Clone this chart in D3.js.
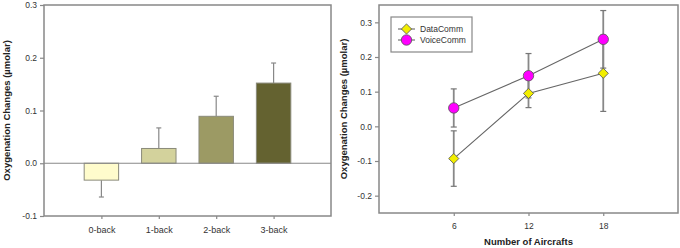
<!DOCTYPE html>
<html>
<head>
<meta charset="utf-8">
<script src="https://cdn.jsdelivr.net/npm/d3@7"></script>
<style>
  body { margin: 0; background: #fff; }
  svg { display: block; font-family: Arial, "Liberation Sans", sans-serif; }
  .tick text { fill: #333; font-size: 8.5px; }
  .domain { display: none; }
  .tick line { stroke: #888; stroke-width: 1.2; }
</style>
</head>
<body>
<div id="chart"></div>
<script>
// left panel: n-back task
const nbackCats = ["0-back", "1-back", "2-back", "3-back"];
const nbackMean = [-0.032, 0.028, 0.089, 0.152];
const nbackErr = [0.032, 0.039, 0.038, 0.038];
const nbackColors = ["#fffccc", "#d3d29c", "#9c9a64", "#646230"];
const leftTicks = [-0.1, 0.0, 0.1, 0.2, 0.3];

// right panel: aircraft count
const aircrafts = [6, 12, 18];
const dataComm = [-0.093, 0.095, 0.153];
const dataCommErr = [0.080, 0.041, 0.110];
const voiceComm = [0.053, 0.146, 0.251];
const voiceCommErr = [0.055, 0.064, 0.083];
const rightTicks = [-0.2, -0.1, 0.0, 0.1, 0.2, 0.3];

const W = 680, H = 248;
const frameColor = "#888";
const fmt = d => d.toFixed(1);

const svg = d3.select("#chart").append("svg")
    .attr("width", W)
    .attr("height", H);

// ---------- left bar chart ----------
const x1 = d3.scalePoint().domain(nbackCats).range([44, 331]).padding(1);
const y1 = d3.scaleLinear().domain([-0.1, 0.3]).range([216, 5]);
const left = svg.append("g");

left.append("g")
    .attr("transform", `translate(${x1.range()[0]},0)`)
    .call(d3.axisLeft(y1).tickValues(leftTicks).tickFormat(fmt).tickSize(4).tickPadding(3));

left.append("g")
    .attr("transform", `translate(0,${y1.range()[0]})`)
    .call(d3.axisBottom(x1).tickSize(3).tickPadding(8))
    .selectAll("text").style("font-size", "9px");

left.append("rect")
    .attr("x", x1.range()[0]).attr("y", y1.range()[1])
    .attr("width", x1.range()[1] - x1.range()[0])
    .attr("height", y1.range()[0] - y1.range()[1])
    .attr("fill", "none").attr("stroke", frameColor).attr("stroke-width", 1.5);

const bw = x1.step() * 0.6;

// error bars (one sided, away from zero)
nbackCats.forEach((c, i) => {
    const v = nbackMean[i];
    const end = v + Math.sign(v) * nbackErr[i];
    const cx = x1(c);
    left.append("line")
        .attr("x1", cx).attr("x2", cx)
        .attr("y1", y1(v)).attr("y2", y1(end))
        .attr("stroke", "#888").attr("stroke-width", 1.2);
    left.append("line")
        .attr("x1", cx - 2.5).attr("x2", cx + 2.5)
        .attr("y1", y1(end)).attr("y2", y1(end))
        .attr("stroke", "#888").attr("stroke-width", 1.2);
});

left.selectAll(".bar")
    .data(nbackCats)
    .enter().append("rect")
    .attr("class", "bar")
    .attr("x", d => x1(d) - bw / 2)
    .attr("y", (d, i) => y1(Math.max(0, nbackMean[i])))
    .attr("width", bw)
    .attr("height", (d, i) => Math.abs(y1(nbackMean[i]) - y1(0)))
    .attr("fill", (d, i) => nbackColors[i])
    .attr("stroke", "#8a8a7a")
    .attr("stroke-width", 1);

// zero line
left.append("line")
    .attr("x1", x1.range()[0]).attr("x2", x1.range()[1])
    .attr("y1", y1(0)).attr("y2", y1(0))
    .attr("stroke", frameColor).attr("stroke-width", 1.2);

left.append("text")
    .attr("transform", `translate(10,${(y1.range()[0] + y1.range()[1]) / 2}) rotate(-90)`)
    .attr("text-anchor", "middle")
    .style("font-size", "9.5px").style("font-weight", "bold").attr("fill", "#222")
    .text("Oxygenation Changes (µmolar)");

// ---------- right line chart ----------
const x2 = d3.scaleLinear().domain([0, 24]).range([379, 678]);
const y2 = d3.scaleLinear().domain([-0.25, 0.35]).range([213, 5]);
const right = svg.append("g");

right.append("g")
    .attr("transform", `translate(${x2.range()[0]},0)`)
    .call(d3.axisLeft(y2).tickValues(rightTicks).tickFormat(fmt).tickSize(4).tickPadding(3));

right.append("g")
    .attr("transform", `translate(0,${y2.range()[0]})`)
    .call(d3.axisBottom(x2).tickValues(aircrafts).tickSize(3).tickPadding(7));

right.append("rect")
    .attr("x", x2.range()[0]).attr("y", y2.range()[1])
    .attr("width", x2.range()[1] - x2.range()[0])
    .attr("height", y2.range()[0] - y2.range()[1])
    .attr("fill", "none").attr("stroke", frameColor).attr("stroke-width", 1.5);

const series = [
    { name: "DataComm", vals: dataComm, err: dataCommErr, fill: "#f2ee00", shape: d3.symbolSquare, size: 52, rot: 45 },
    { name: "VoiceComm", vals: voiceComm, err: voiceCommErr, fill: "#ff00ff", shape: d3.symbolCircle, size: 85, rot: 0 }
];

series.forEach(s => {
    aircrafts.forEach((a, i) => {
        const cx = x2(a);
        const lo = y2(s.vals[i] - s.err[i]), hi = y2(s.vals[i] + s.err[i]);
        right.append("line")
            .attr("x1", cx).attr("x2", cx).attr("y1", lo).attr("y2", hi)
            .attr("stroke", "#888").attr("stroke-width", 1.8);
        [lo, hi].forEach(yy => right.append("line")
            .attr("x1", cx - 3).attr("x2", cx + 3).attr("y1", yy).attr("y2", yy)
            .attr("stroke", "#777").attr("stroke-width", 1.2));
    });
});

const line = d3.line().x((d, i) => x2(aircrafts[i])).y(d => y2(d));
series.forEach(s => {
    right.append("path")
        .attr("d", line(s.vals))
        .attr("fill", "none").attr("stroke", "#666").attr("stroke-width", 1.1);
});

series.forEach(s => {
    right.selectAll(null)
        .data(s.vals)
        .enter().append("path")
        .attr("transform", (d, i) => `translate(${x2(aircrafts[i])},${y2(d)}) rotate(${s.rot})`)
        .attr("d", d3.symbol().type(s.shape).size(s.size))
        .attr("fill", s.fill).attr("stroke", "#555").attr("stroke-width", 0.8);
});

// legend
const lg = right.append("g").attr("transform", "translate(391,17)");
lg.append("rect")
    .attr("width", 81).attr("height", 35)
    .attr("fill", "#fff").attr("stroke", frameColor).attr("stroke-width", 1.2);
series.forEach((s, i) => {
    const ly = 12 + i * 11;
    lg.append("line").attr("x1", 7).attr("x2", 24).attr("y1", ly).attr("y2", ly)
        .attr("stroke", "#666").attr("stroke-width", 1.1);
    lg.append("path")
        .attr("transform", `translate(15.5,${ly}) rotate(${s.rot})`)
        .attr("d", d3.symbol().type(s.shape).size(s.size))
        .attr("fill", s.fill).attr("stroke", "#555").attr("stroke-width", 0.8);
    lg.append("text").attr("x", 29).attr("y", ly).attr("dy", "0.35em")
        .style("font-size", "8.5px").attr("fill", "#333").text(s.name);
});

right.append("text")
    .attr("transform", `translate(347,${(y2.range()[0] + y2.range()[1]) / 2}) rotate(-90)`)
    .attr("text-anchor", "middle")
    .style("font-size", "9.5px").style("font-weight", "bold").attr("fill", "#222")
    .text("Oxygenation Changes (µmolar)");

right.append("text")
    .attr("x", (x2.range()[0] + x2.range()[1]) / 2).attr("y", 245)
    .attr("text-anchor", "middle")
    .style("font-size", "9.5px").style("font-weight", "bold").attr("fill", "#222")
    .text("Number of Aircrafts");
</script>
</body>
</html>
